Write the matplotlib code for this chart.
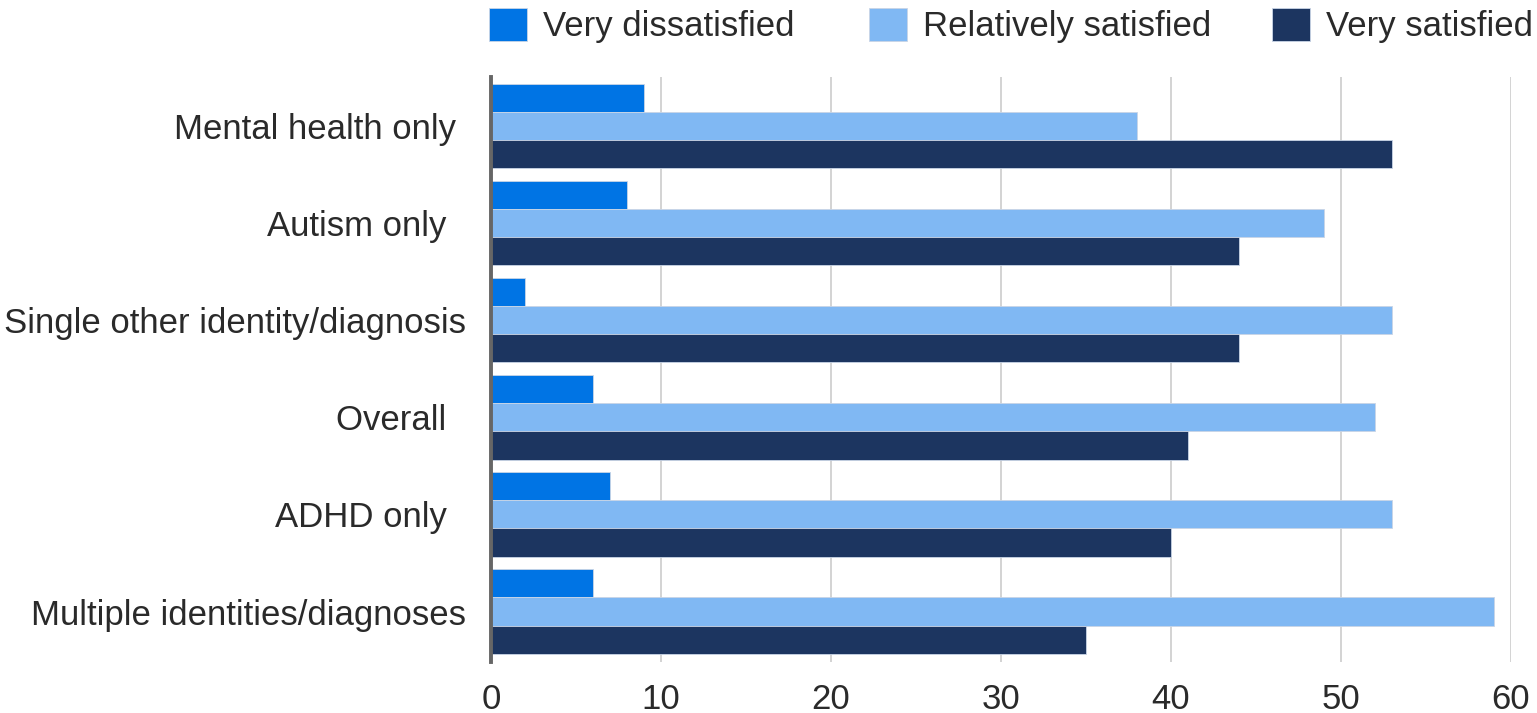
import matplotlib.pyplot as plt
import numpy as np

plt.rcParams['font.family'] = ['Liberation Sans', 'DejaVu Sans']

groups = [
    "Mental health only ",
    "Autism only  ",
    "Single other identity/diagnosis",
    "Overall  ",
    "ADHD only  ",
    "Multiple identities/diagnoses",
]
series_names = ["Very dissatisfied", "Relatively satisfied", "Very satisfied"]
very_dissatisfied = [9, 8, 2, 6, 7, 6]
relatively_satisfied = [38, 49, 53, 52, 53, 59]
very_satisfied = [53, 44, 44, 41, 40, 35]
x_ticks = [0, 10, 20, 30, 40, 50, 60]

colors = ["#0074E4", "#80B8F3", "#1C3560"]
text_color = "#2a2a2a"
fs = 25

fig = plt.figure(figsize=(15.37, 7.13), dpi=100)
ax = fig.add_axes([491 / 1537, 1 - 662 / 713, (1511 - 491) / 1537, (662 - 77) / 713])

y = np.arange(len(groups))
h = 0.29
bars = []
for i, (vals, name) in enumerate(zip([very_dissatisfied, relatively_satisfied, very_satisfied], series_names)):
    b = ax.barh(y + (i - 1) * h, vals, height=h, color=colors[i], label=name,
                edgecolor="#c9d5e6", linewidth=0.6, zorder=2)
    bars.append(b)

ax.set_xlim(0, 60)
ax.set_ylim(len(groups) - 0.48, -0.505)
ax.set_xticks(x_ticks)
ax.set_yticks(y)
ax.set_yticklabels(groups)
ax.tick_params(axis="both", length=0, labelsize=fs, labelcolor=text_color)
ax.tick_params(axis="y", pad=18)
ax.tick_params(axis="x", pad=15)

ax.grid(axis="x", color="#c8c8c8", linewidth=1.1, zorder=1)
ax.set_axisbelow(True)
for side in ["top", "right", "bottom"]:
    ax.spines[side].set_visible(False)
ax.spines["left"].set_color("#666666")
ax.spines["left"].set_linewidth(2.8)
ax.spines["left"].set_zorder(3)

# one legend entry per series, spaced along the top
legend_x = [489, 869, 1272]
for b, name, lx in zip(bars, series_names, legend_x):
    fig.legend([b], [name], loc="center left", bbox_to_anchor=(lx / 1537, 1 - 25.5 / 713),
               frameon=False, fontsize=fs, labelcolor=text_color,
               handlelength=1.1, handleheight=1.1, handletextpad=0.45,
               borderpad=0, borderaxespad=0)

fig.savefig("out.png", dpi=100)
